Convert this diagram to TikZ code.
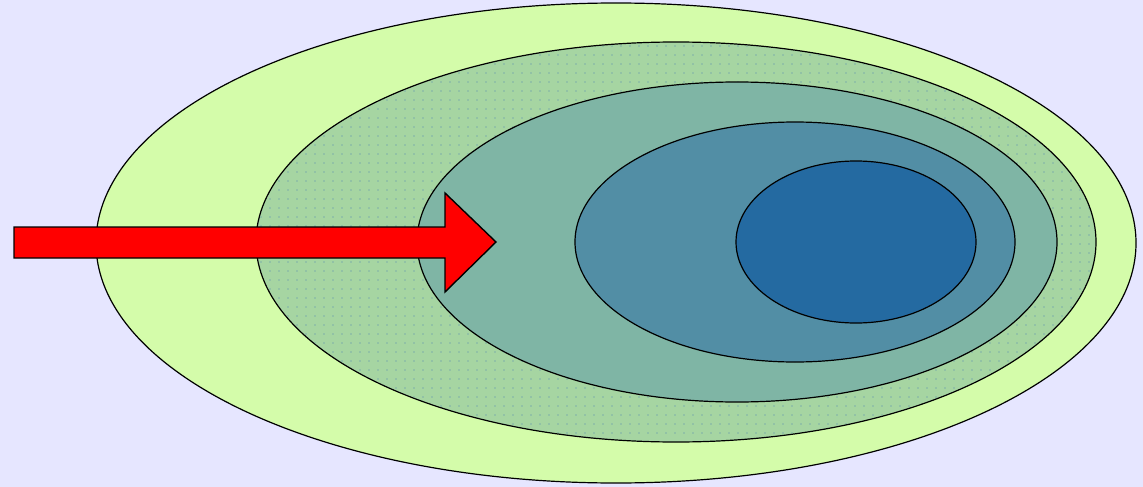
\documentclass[tikz,border=0pt]{standalone}
\usepackage{tikz}
\usetikzlibrary{patterns.meta}

\definecolor{bgLav}{HTML}{E6E6FF}
\definecolor{ringA}{HTML}{D4FCAA}
\definecolor{ringB}{HTML}{A6D5A2}
\definecolor{ringBdot}{HTML}{7FAFAA}
\definecolor{ringC}{HTML}{7FB5A5}
\definecolor{ringD}{HTML}{528EA5}
\definecolor{ringE}{HTML}{246AA1}
\definecolor{arrowRed}{HTML}{FF0000}

\tikzset{ring/.style={draw=black,line width=1.2pt}}

\begin{document}
\begin{tikzpicture}[x=1pt,y=-1pt]
\fill[bgLav] (0,0) rectangle (1143,487);
\useasboundingbox (0,0) rectangle (1143,487);

\draw[ring,fill=ringA] (616,243) ellipse [x radius=520,y radius=240];
\draw[ring,fill=ringB] (676,242) ellipse [x radius=420,y radius=200];
\fill[pattern={Dots[radius=0.8pt,distance=9pt]},pattern color=ringBdot] (676,242) ellipse [x radius=419,y radius=199];
\draw[ring,fill=ringC] (737,242) ellipse [x radius=320,y radius=160];
\draw[ring,fill=ringD] (795,242) ellipse [x radius=220,y radius=120];
\draw[ring,fill=ringE] (856,242) ellipse [x radius=120,y radius=81];

% incoming arrow
\draw[fill=arrowRed,line width=1.4pt,line join=miter]
  (14,227) -- (445,227) -- (445,193) -- (496,242) -- (445,292) -- (445,258) -- (14,258) -- cycle;
\end{tikzpicture}
\end{document}
